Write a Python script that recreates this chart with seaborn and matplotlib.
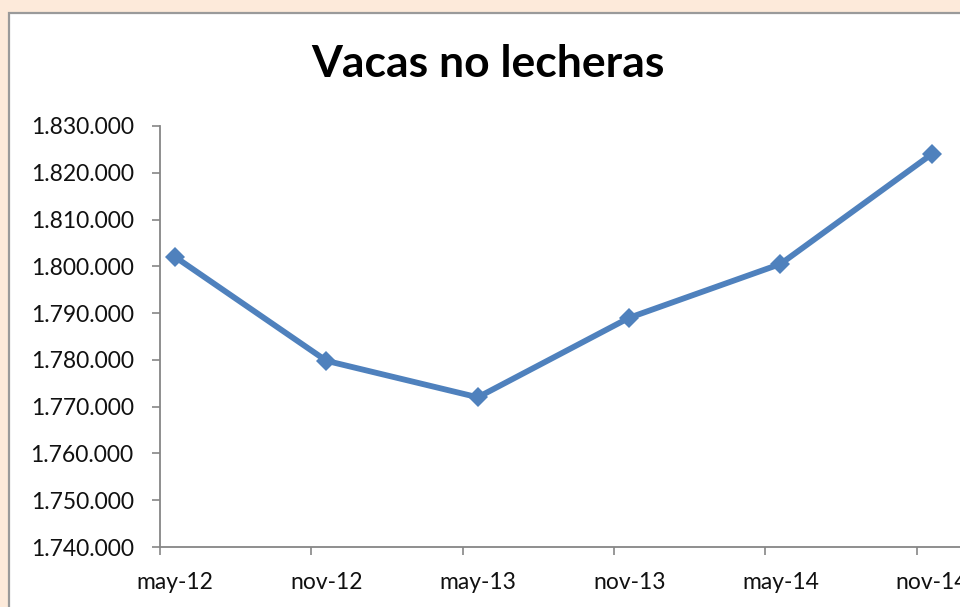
import numpy as np
import pandas as pd
import matplotlib
matplotlib.use("Agg")
import matplotlib.pyplot as plt
import seaborn as sns
from matplotlib.ticker import FuncFormatter, FixedLocator
from matplotlib.patches import Rectangle

# Data
periods = ["may-12", "nov-12", "may-13", "nov-13", "may-14", "nov-14"]
vacas = [1802000, 1779800, 1772000, 1789000, 1800500, 1824000]
title = "Vacas no lecheras"

sns.set_style("white")
plt.rcParams['font.family'] = ['Lato', 'DejaVu Sans']

W, H = 960, 607
fig = plt.figure(figsize=(W / 100, H / 100), dpi=100)
fig.patch.set_facecolor("#FDEADA")

# chart area (white with grey border)
fig.patches.append(Rectangle((9 / W, -0.2), 1.2, (H - 13) / H + 0.2,
                             transform=fig.transFigure, facecolor="white",
                             edgecolor="#9a9a9a", linewidth=1.6, zorder=-5))

left, right, top, bottom = 160, 1068, 126, 547
ax = fig.add_axes([left / W, (H - bottom) / H, (right - left) / W, (bottom - top) / H])
ax.set_zorder(5)
ax.set_facecolor("none")

df = pd.DataFrame({"x": np.arange(len(periods)), "v": vacas})
sns.lineplot(data=df, x="x", y="v", ax=ax, color="#4F81BD", linewidth=4.2,
             marker="D", markersize=10.5, markeredgewidth=0, clip_on=False)

off = 0.1
ax.set_xlim(-off, len(periods) - off)
ax.set_ylim(1740000, 1830000)
ax.set_yticks(np.arange(1740000, 1830001, 10000))
ax.yaxis.set_major_formatter(FuncFormatter(lambda v, p: f"{int(v):,}".replace(",", ".")))

ax.xaxis.set_major_locator(FixedLocator(np.arange(len(periods))))
ax.set_xticklabels(periods)
ax.xaxis.set_minor_locator(FixedLocator(np.arange(len(periods)) - off))
ax.tick_params(axis="x", which="major", length=0, pad=18, labelsize=16.5, labelcolor="#111111")
ax.tick_params(axis="x", which="minor", length=6, width=1.2, color="#868686", direction="out", bottom=True)
ax.tick_params(axis="y", length=6, width=1.2, color="#868686", direction="out", left=True,
               pad=13, labelsize=16.5, labelcolor="#111111")

for s in ["top", "right"]:
    ax.spines[s].set_visible(False)
for s in ["left", "bottom"]:
    ax.spines[s].set_color("#868686")
    ax.spines[s].set_linewidth(1.3)

ax.set_xlabel("")
ax.set_ylabel("")
ax.grid(False)

fig.text(488 / W, (H - 64) / H, title, ha="center", va="center",
         fontsize=32, fontweight="bold", color="#000000")

fig.savefig("out.png", dpi=100)
